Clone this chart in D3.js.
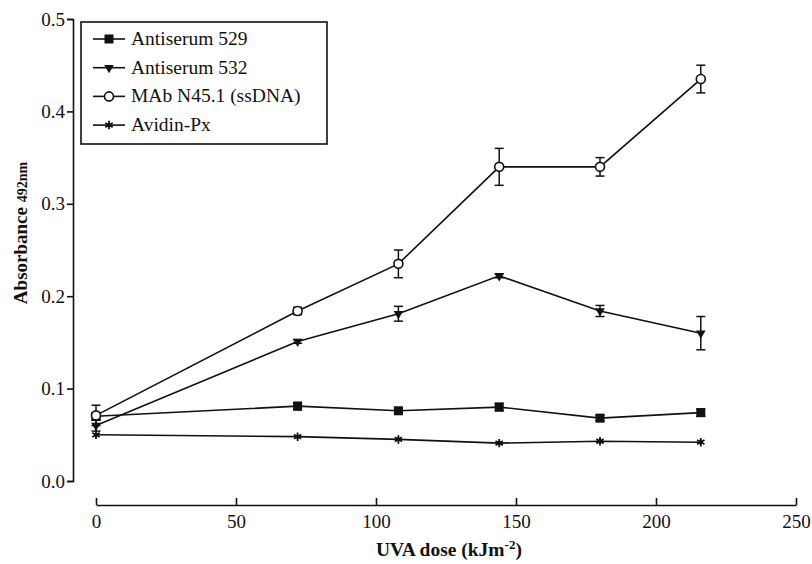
<!DOCTYPE html>
<html><head><meta charset="utf-8">
<script src="https://cdn.jsdelivr.net/npm/d3@7"></script>
<style>body{margin:0;background:#fff}svg{display:block}text{font-family:"Liberation Serif","DejaVu Serif",serif;fill:#111}</style>
</head><body><svg id="c" width="812" height="564"></svg>
<script>
const doses = [0, 72, 108, 144, 180, 216];
const seriesNames = ["Antiserum 529", "Antiserum 532", "MAb N45.1 (ssDNA)", "Avidin-Px"];
const as529 = [0.070, 0.081, 0.076, 0.080, 0.068, 0.074];
const as529Err = [0.004, 0.004, 0.003, 0.004, 0.003, 0.004];
const as532 = [0.060, 0.151, 0.181, 0.222, 0.184, 0.160];
const as532Err = [0.006, 0.002, 0.008, 0.002, 0.006, 0.018];
const mab = [0.071, 0.184, 0.235, 0.340, 0.340, 0.435];
const mabErr = [0.011, 0.004, 0.015, 0.020, 0.010, 0.015];
const avidin = [0.050, 0.048, 0.045, 0.041, 0.043, 0.042];
const avidinErr = [0, 0, 0, 0, 0, 0];
const xTicks = [0, 50, 100, 150, 200, 250];
const yTicks = [0, 0.1, 0.2, 0.3, 0.4, 0.5];

const svg = d3.select("#c");
const x = d3.scaleLinear().domain([0, 250]).range([96, 796]);
const y = d3.scaleLinear().domain([0, 0.5]).range([481, 19]);
const ink = "#111";
const FF = '"Liberation Serif","DejaVu Serif",serif';

// Y axis
const ya = svg.append("g").attr("transform", "translate(73,0)")
  .call(d3.axisLeft(y).tickValues(yTicks).tickFormat(d3.format(".1f")).tickSize(6).tickPadding(2));
ya.attr("font-family", FF);
ya.select(".domain").attr("stroke", ink).attr("stroke-width", 1.6);
ya.selectAll(".tick line").attr("stroke", ink).attr("stroke-width", 1.6);
ya.selectAll("text").style("font-size", "19px").attr("fill", ink);

// X axis (offset)
const xa = svg.append("g").attr("transform", "translate(0,505)")
  .call(d3.axisBottom(x).tickValues(xTicks).tickSizeInner(-7).tickSizeOuter(0).tickPadding(7));
xa.attr("font-family", FF);
xa.select(".domain").attr("stroke", ink).attr("stroke-width", 1.6);
xa.selectAll(".tick line").attr("stroke", ink).attr("stroke-width", 1.6);
xa.selectAll("text").style("font-size", "19px").attr("fill", ink).attr("dy", "0.85em");

// Titles
const xt = svg.append("text").attr("x", 449).attr("y", 556).attr("text-anchor", "middle")
  .style("font-size", "19.5px").style("font-weight", "bold");
xt.append("tspan").text("UVA dose (kJm");
xt.append("tspan").text("-2").attr("dy", -7).style("font-size", "13px");
xt.append("tspan").text(")").attr("dy", 7);

const yt = svg.append("text").attr("transform", "translate(27,233) rotate(-90)").attr("text-anchor", "middle")
  .style("font-weight", "bold");
yt.append("tspan").text("Absorbance ").style("font-size", "19px");
yt.append("tspan").text("492nm").style("font-size", "14px");

const data = [
  {name: seriesNames[0], vals: as529, err: as529Err, mk: "square"},
  {name: seriesNames[1], vals: as532, err: as532Err, mk: "tri"},
  {name: seriesNames[2], vals: mab, err: mabErr, mk: "circle"},
  {name: seriesNames[3], vals: avidin, err: avidinErr, mk: "star"}
];

function marker(g, kind) {
  if (kind === "square") g.append("rect").attr("x", -4.5).attr("y", -4.5).attr("width", 9).attr("height", 9).attr("fill", ink);
  else if (kind === "tri") g.append("path").attr("d", d3.symbol(d3.symbolTriangle, 40)()).attr("transform", "rotate(180)").attr("fill", ink);
  else if (kind === "circle") g.append("circle").attr("r", 4.5).attr("fill", "#fff").attr("stroke", ink).attr("stroke-width", 1.6);
  else {
    g.append("path").attr("d", d3.symbol(d3.symbolAsterisk, 50)()).attr("stroke", ink).attr("stroke-width", 1.8).attr("fill", "none");
    g.append("circle").attr("r", 2).attr("fill", ink);
  }
}

const line = d3.line().x((d, i) => x(doses[i])).y(d => y(d));
data.forEach(s => {
  const g = svg.append("g");
  s.vals.forEach((v, i) => {
    if (!s.err[i]) return;
    const cx = x(doses[i]), y1 = y(v + s.err[i]), y2 = y(v - s.err[i]);
    g.append("line").attr("x1", cx).attr("x2", cx).attr("y1", y1).attr("y2", y2).attr("stroke", ink).attr("stroke-width", 1.5);
    [y1, y2].forEach(yy => g.append("line").attr("x1", cx - 4.5).attr("x2", cx + 4.5).attr("y1", yy).attr("y2", yy).attr("stroke", ink).attr("stroke-width", 1.5));
  });
  g.append("path").attr("d", line(s.vals)).attr("fill", "none").attr("stroke", ink).attr("stroke-width", 1.6);
  s.vals.forEach((v, i) => marker(g.append("g").attr("transform", `translate(${x(doses[i])},${y(v)})`), s.mk));
});

// Legend
const lg = svg.append("g");
lg.append("rect").attr("x", 81).attr("y", 22).attr("width", 246).attr("height", 122).attr("fill", "#fff").attr("stroke", ink).attr("stroke-width", 1.6);
data.forEach((s, i) => {
  const yy = 39 + i * 28.7;
  lg.append("line").attr("x1", 93).attr("x2", 125).attr("y1", yy).attr("y2", yy).attr("stroke", ink).attr("stroke-width", 1.6);
  marker(lg.append("g").attr("transform", `translate(109,${yy})`), s.mk);
  lg.append("text").attr("x", 131).attr("y", yy + 6).style("font-size", "19.5px").text(s.name);
});
</script></body></html>
